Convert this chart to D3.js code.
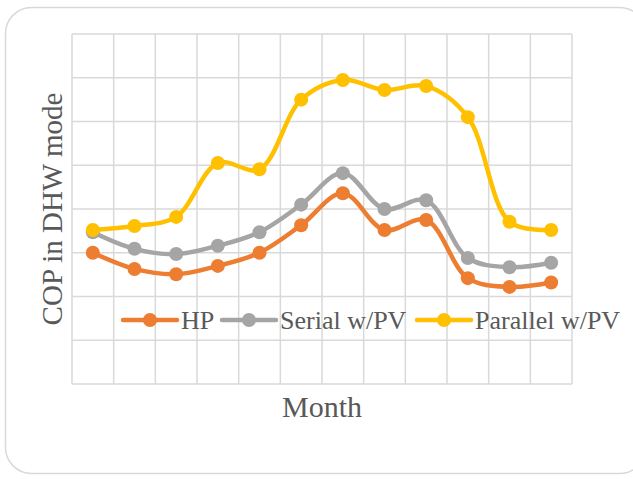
<!DOCTYPE html>
<meta charset="utf-8">
<script src="https://cdn.jsdelivr.net/npm/d3@7"></script>
<style>
  body { margin: 0; background: #fff; }
  text { font-family: "Liberation Serif", "Times New Roman", serif; fill: #595959; }
</style>
<svg id="graph" width="633" height="479"></svg>
<script>

// data (no tick labels in the original, arbitrary units)
var months = ["1", "2", "3", "4", "5", "6", "7", "8", "9", "10", "11", "12"];
var hp       = [3.00, 2.63, 2.51, 2.70, 3.00, 3.63, 4.36, 3.52, 3.75, 2.42, 2.22, 2.32];
var serial   = [3.47, 3.09, 2.97, 3.16, 3.47, 4.10, 4.82, 4.00, 4.20, 2.88, 2.67, 2.77];
var parallel = [3.52, 3.61, 3.82, 5.05, 4.91, 6.50, 6.95, 6.72, 6.81, 6.10, 3.71, 3.52];
var yTicks = [0, 1, 2, 3, 4, 5, 6, 7, 8];

var series = [
  {name: "HP", values: hp, color: "#ED7D31"},
  {name: "Serial w/PV", values: serial, color: "#A5A5A5"},
  {name: "Parallel w/PV", values: parallel, color: "#FFC000"}
];

var svg = d3.select("#graph"),
    margin = {top: 34, right: 61, bottom: 95, left: 72},
    width = +svg.attr("width") - margin.left - margin.right,
    height = +svg.attr("height") - margin.top - margin.bottom;

// chart frame
svg.append("rect")
    .attr("x", 5.5).attr("y", 7.5)
    .attr("width", 640).attr("height", 466)
    .attr("rx", 26).attr("ry", 26)
    .attr("fill", "#fff")
    .attr("stroke", "#d9d9d9")
    .attr("stroke-width", 1.5);

var g = svg.append("g")
    .attr("transform", "translate(" + margin.left + "," + margin.top + ")");

var x = d3.scaleBand().domain(months).range([0, width]),
    y = d3.scaleLinear().domain([0, 8]).range([height, 0]);

// grid
g.selectAll(".hgrid")
  .data(yTicks)
  .enter().append("line")
    .attr("x1", 0).attr("x2", width)
    .attr("y1", function(d) { return y(d); })
    .attr("y2", function(d) { return y(d); })
    .attr("stroke", "#d9d9d9").attr("stroke-width", 1.5);

var edges = months.map(function(m) { return x(m); }).concat([width]);
g.selectAll(".vgrid")
  .data(edges)
  .enter().append("line")
    .attr("y1", 0).attr("y2", height)
    .attr("x1", function(d) { return d; })
    .attr("x2", function(d) { return d; })
    .attr("stroke", "#d9d9d9").attr("stroke-width", 1.5);

var line = d3.line()
    .curve(d3.curveCatmullRom.alpha(0.5))
    .x(function(d, i) { return x(months[i]) + x.bandwidth() / 2; })
    .y(function(d) { return y(d); });

var s = g.selectAll(".series")
  .data(series)
  .enter().append("g");

s.append("path")
    .attr("d", function(d) { return line(d.values); })
    .attr("fill", "none")
    .attr("stroke", function(d) { return d.color; })
    .attr("stroke-width", 4.5)
    .attr("stroke-linecap", "round");

s.each(function(d) {
  d3.select(this).selectAll("circle")
    .data(d.values)
    .enter().append("circle")
      .attr("cx", function(v, i) { return x(months[i]) + x.bandwidth() / 2; })
      .attr("cy", function(v) { return y(v); })
      .attr("r", 7)
      .attr("fill", d.color);
});

// legend
var legendX = [123, 222, 417];
var leg = svg.selectAll(".legend")
  .data(series)
  .enter().append("g")
    .attr("transform", function(d, i) { return "translate(" + legendX[i] + ",320)"; });

leg.append("line")
    .attr("x1", 0).attr("x2", 54)
    .attr("stroke", function(d) { return d.color; })
    .attr("stroke-width", 4.5)
    .attr("stroke-linecap", "round");
leg.append("circle")
    .attr("cx", 27).attr("r", 7)
    .attr("fill", function(d) { return d.color; });
leg.append("text")
    .attr("x", 58).attr("dy", "0.35em")
    .style("font-size", "26px")
    .text(function(d) { return d.name; });

// axis titles
svg.append("text")
    .attr("x", margin.left + width / 2).attr("y", 417)
    .attr("text-anchor", "middle")
    .style("font-size", "30px")
    .text("Month");

svg.append("text")
    .attr("transform", "translate(62," + (margin.top + height / 2 + 0) + ") rotate(-90)")
    .attr("text-anchor", "middle")
    .style("font-size", "29px")
    .text("COP in DHW mode");

</script>
